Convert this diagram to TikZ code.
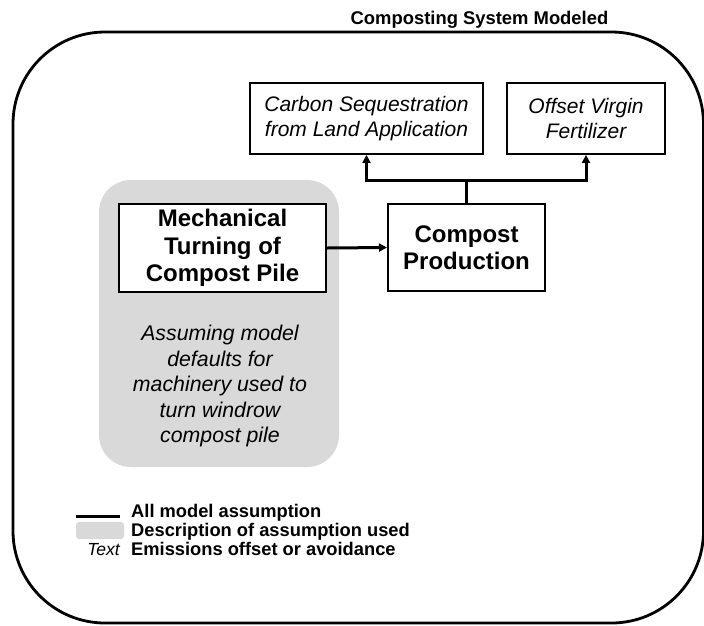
\documentclass[tikz,border=0pt]{standalone}
\usepackage{fontspec}
\setmainfont{Liberation Sans}
\usetikzlibrary{arrows.meta}
\definecolor{descgray}{HTML}{D9D9D9}
\begin{document}
\begin{tikzpicture}[x=1pt,y=-1pt,
  boxbold/.style={draw=black, line width=2pt, inner sep=0pt, align=center, font=\bfseries\fontsize{24}{27.5}\selectfont},
  boxital/.style={draw=black, line width=1.8pt, inner sep=0pt, align=center, font=\itshape\fontsize{21}{25}\selectfont},
  conn/.style={line width=3pt},
  arr/.style={conn, -{Triangle[length=8pt,width=8pt]}},
  legendtxt/.style={anchor=base west, inner sep=0pt, font=\bfseries\fontsize{18.3}{18}\selectfont}
]
\useasboundingbox (0,0) rectangle (704,625);
% outer system boundary
\draw[line width=2.8pt, rounded corners=92pt] (13,32) rectangle (703.5,623);
\node[anchor=base, inner sep=0pt, font=\bfseries\fontsize{18.4}{20}\selectfont] (title) at (479.5,24) {Composting System Modeled};
% description background
\node[fill=descgray, rounded corners=32pt, minimum width=240pt, minimum height=287pt, inner sep=0pt] (descbg) at (219,323.5) {};
\node[inner sep=0pt, align=center, font=\itshape\fontsize{21.3}{25.5}\selectfont] (desctext) at (220,386) {Assuming model\\defaults for\\machinery used to\\turn windrow\\compost pile};
% boxes
\node[boxbold, fill=white, minimum width=207pt, minimum height=88pt] (mech) at (222.5,248) {Mechanical\\Turning of\\Compost Pile};
\node[boxbold, minimum width=157pt, minimum height=87pt] (compost) at (466.5,247.5) {Compost\\Production};
\node[boxital, minimum width=233pt, minimum height=71pt] (carbon) at (366.5,118.5) {Carbon Sequestration\\from Land Application};
\node[boxital, minimum width=158pt, minimum height=71pt] (offset) at (586,118.5) {Offset Virgin\\Fertilizer};
% connectors
\coordinate (junc) at (466.5,180);
\draw[conn] (compost.north) -- (junc);
\draw[arr] (junc) -| (carbon.south);
\draw[arr] (junc) -| (offset.south);
\draw[arr] (mech.east) -- (compost.west);
% legend
\coordinate (lineA) at (76,516);
\coordinate (lineB) at (120,516);
\draw[conn] (lineA) -- (lineB);
\node[fill=descgray, rounded corners=3pt, minimum width=48pt, minimum height=17pt, inner sep=0pt] (swatch) at (100,530.5) {};
\node[anchor=base east, inner sep=0pt, font=\itshape\fontsize{17.5}{18}\selectfont] (textsample) at (120,555.5) {Text};
\node[legendtxt] (leg1) at (131,517.5) {All model assumption};
\node[legendtxt] (leg2) at (131,536.5) {Description of assumption used};
\node[legendtxt] (leg3) at (131,555.5) {Emissions offset or avoidance};
\end{tikzpicture}
\end{document}
